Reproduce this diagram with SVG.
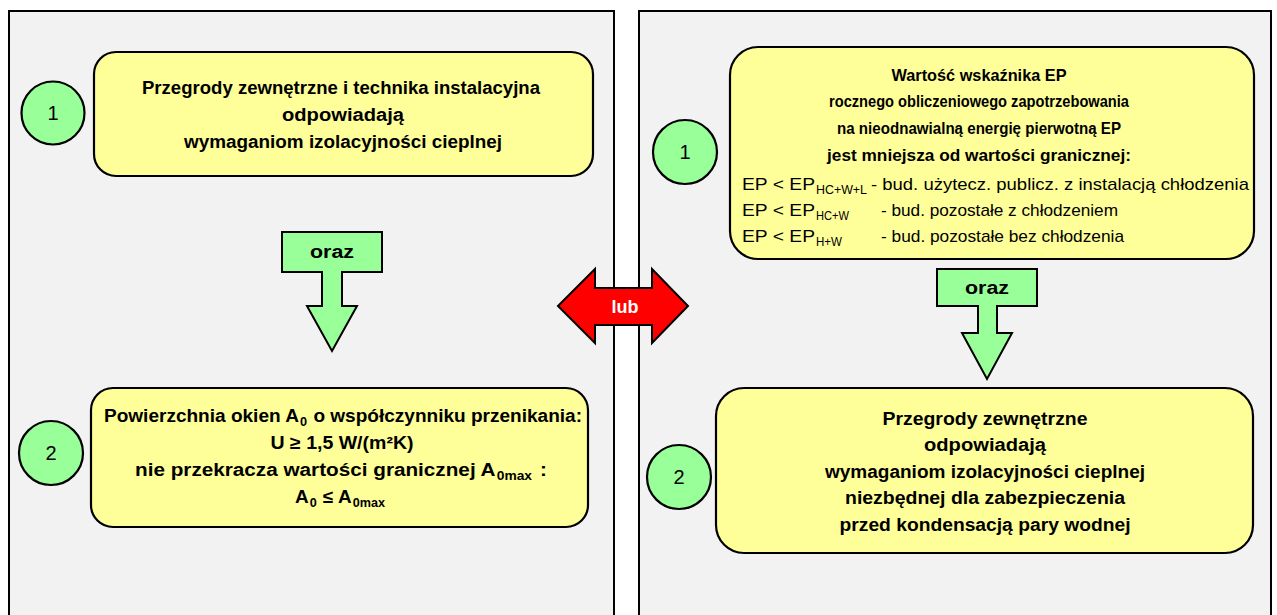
<svg xmlns="http://www.w3.org/2000/svg" width="1277" height="615" viewBox="0 0 1277 615">
<style>
.panel{fill:#f2f2f2;stroke:#000;stroke-width:2}
.box{fill:#ffff99;stroke:#000;stroke-width:2.2}
.badge{fill:#99ff99;stroke:#000;stroke-width:2.2}
.num{font-family:"Liberation Sans",Arial,sans-serif;font-size:20px;fill:#000;text-anchor:middle}
.b{font-family:"Liberation Sans",Arial,sans-serif;font-weight:bold;font-size:18px;fill:#000;text-anchor:middle}
.bs{font-family:"Liberation Sans",Arial,sans-serif;font-weight:bold;font-size:16.5px;fill:#000;text-anchor:middle}
.r{font-family:"Liberation Sans",Arial,sans-serif;font-size:17px;fill:#000}
.sub{font-family:"Liberation Sans",Arial,sans-serif;font-size:12px;fill:#000}
.arrow{fill:#99ff99;stroke:#000;stroke-width:2;stroke-linejoin:miter}
.lub{fill:#ff0000;stroke:#000;stroke-width:2;stroke-linejoin:miter}
.lubt{font-family:"Liberation Sans",Arial,sans-serif;font-weight:bold;font-size:18px;fill:#fff;text-anchor:middle}
</style>
<rect width="1277" height="615" fill="#fff"/>
<g id="panels">
<rect class="panel" x="9" y="11" width="605" height="620"/>
<rect class="panel" x="639" y="11" width="632" height="620"/>
</g>
<g id="connectors">
<g id="arrow-left-oraz">
<path class="arrow" d="M282,232 H382 V272 H342 V306 H357 L332,351 L307,306 H322 V272 H282 Z"/>
<text class="b" x="332" y="258" textLength="44" lengthAdjust="spacingAndGlyphs">oraz</text>
</g>
<g id="arrow-right-oraz">
<path class="arrow" d="M937,269 H1037 V306 H997 V333 H1012 L987,379 L962,333 H978 V306 H937 Z"/>
<text class="b" x="987" y="294" textLength="44" lengthAdjust="spacingAndGlyphs">oraz</text>
</g>
<g id="arrow-lub">
<path class="lub" d="M558,306 L595,269 V288 H652 V269 L688,306 L652,343 V325 H595 V343 Z"/>
<text class="lubt" x="625" y="313">lub</text>
</g>
</g>
<g id="node-left-1">
<circle class="badge" cx="53" cy="113" r="31.5"/>
<text class="num" x="53" y="120">1</text>
<rect class="box" x="94" y="52" width="499" height="124" rx="22"/>
<text class="b" x="341" y="94" textLength="398" lengthAdjust="spacingAndGlyphs">Przegrody zewnętrzne i technika instalacyjna</text>
<text class="b" x="343" y="121" textLength="122" lengthAdjust="spacingAndGlyphs">odpowiadają</text>
<text class="b" x="343" y="148" textLength="318" lengthAdjust="spacingAndGlyphs">wymaganiom izolacyjności cieplnej</text>
</g>
<g id="node-left-2">
<circle class="badge" cx="51" cy="453" r="32"/>
<text class="num" x="51" y="460">2</text>
<rect class="box" x="91" y="388" width="497" height="139" rx="22"/>
<text class="b" x="343" y="422" textLength="478" lengthAdjust="spacingAndGlyphs">Powierzchnia okien A<tspan font-size="12" dy="4" dx="1">0</tspan><tspan dy="-4" dx="1"> o współczynniku przenikania:</tspan></text>
<text class="b" x="342" y="449" textLength="143" lengthAdjust="spacingAndGlyphs">U ≥ 1,5 W/(m²K)</text>
<text class="b" x="341" y="476" textLength="412" lengthAdjust="spacingAndGlyphs">nie przekracza wartości  granicznej A<tspan font-size="12" dy="4" dx="1">0max</tspan><tspan dy="-4" dx="2">   :</tspan></text>
<text class="b" x="340" y="503" textLength="90" lengthAdjust="spacingAndGlyphs">A<tspan font-size="12" dy="4" dx="1">0</tspan><tspan dy="-4" dx="1"> ≤ A</tspan><tspan font-size="12" dy="4" dx="1">0max</tspan></text>
</g>
<g id="node-right-1">
<circle class="badge" cx="685" cy="152" r="32"/>
<text class="num" x="685" y="159">1</text>
<rect class="box" x="730" y="47" width="524" height="212" rx="28"/>
<text class="bs" x="979" y="81" textLength="175" lengthAdjust="spacingAndGlyphs">Wartość wskaźnika EP</text>
<text class="bs" x="979" y="107" textLength="300" lengthAdjust="spacingAndGlyphs">rocznego obliczeniowego zapotrzebowania</text>
<text class="bs" x="979" y="134" textLength="284" lengthAdjust="spacingAndGlyphs">na nieodnawialną energię pierwotną EP</text>
<text class="bs" x="979" y="161" textLength="304" lengthAdjust="spacingAndGlyphs">jest mniejsza od wartości granicznej:</text>
<text class="r" x="742" y="190" textLength="73" lengthAdjust="spacingAndGlyphs">EP &lt; EP</text>
<text class="sub" x="816" y="194" textLength="51" lengthAdjust="spacingAndGlyphs">HC+W+L</text>
<text class="r" x="871" y="190" textLength="378" lengthAdjust="spacingAndGlyphs">- bud. użytecz. publicz. z instalacją  chłodzenia</text>
<text class="r" x="742" y="216" textLength="73" lengthAdjust="spacingAndGlyphs">EP &lt; EP</text>
<text class="sub" x="816" y="220" textLength="33" lengthAdjust="spacingAndGlyphs">HC+W</text>
<text class="r" x="881" y="216" textLength="237" lengthAdjust="spacingAndGlyphs">- bud. pozostałe  z chłodzeniem</text>
<text class="r" x="742" y="242" textLength="73" lengthAdjust="spacingAndGlyphs">EP &lt; EP</text>
<text class="sub" x="816" y="246" textLength="26" lengthAdjust="spacingAndGlyphs">H+W</text>
<text class="r" x="881" y="242" textLength="243" lengthAdjust="spacingAndGlyphs">- bud. pozostałe  bez chłodzenia</text>
</g>
<g id="node-right-2">
<circle class="badge" cx="679" cy="477" r="32"/>
<text class="num" x="679" y="484">2</text>
<rect class="box" x="716" y="388" width="537" height="165" rx="28"/>
<text class="b" x="985" y="425" textLength="205" lengthAdjust="spacingAndGlyphs">Przegrody zewnętrzne</text>
<text class="b" x="985" y="451" textLength="122" lengthAdjust="spacingAndGlyphs">odpowiadają</text>
<text class="b" x="985" y="478" textLength="320" lengthAdjust="spacingAndGlyphs">wymaganiom izolacyjności cieplnej</text>
<text class="b" x="985" y="504" textLength="280" lengthAdjust="spacingAndGlyphs">niezbędnej dla zabezpieczenia</text>
<text class="b" x="985" y="531" textLength="291" lengthAdjust="spacingAndGlyphs">przed kondensacją pary wodnej</text>
</g>
</svg>
